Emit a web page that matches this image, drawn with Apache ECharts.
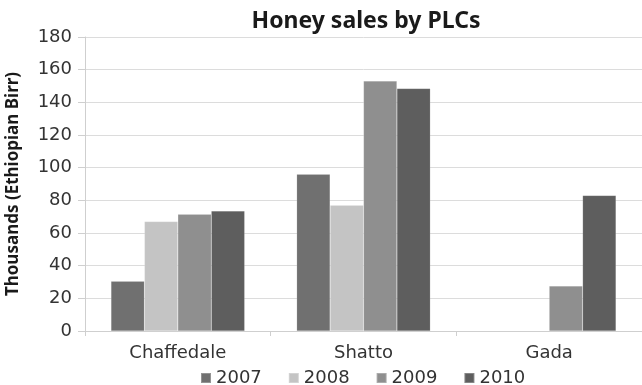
<!DOCTYPE html>
<html>
<head>
<meta charset="utf-8">
<script src="https://cdn.jsdelivr.net/npm/echarts@6/dist/echarts.min.js"></script>
<style>
  html, body { margin: 0; padding: 0; background: #fff; }
  #chart { width: 642px; height: 385px; }
</style>
</head>
<body>
<div id="chart"></div>
<script>
// Honey sales per PLC, thousands of Ethiopian Birr
const categories = ['Chaffedale', 'Shatto', 'Gada'];
const years = ['2007', '2008', '2009', '2010'];
const sales2007 = [30.5, 96, null];
const sales2008 = [67, 77, null];
const sales2009 = [71.5, 153, 27.5];
const sales2010 = [73.5, 148.5, 83];
const yTicks = [0, 20, 40, 60, 80, 100, 120, 140, 160, 180];

const seriesValues = [sales2007, sales2008, sales2009, sales2010];
const colors = ['#707070', '#c4c4c4', '#8f8f8f', '#5e5e5e'];

const chart = echarts.init(document.getElementById('chart'), null, { renderer: 'canvas' });

chart.setOption({
  animation: false,
  backgroundColor: '#ffffff',
  color: colors,
  title: {
    text: 'Honey sales by PLCs',
    left: 361,
    textAlign: 'center',
    top: 5,
    textStyle: { fontFamily: 'Noto Sans', fontWeight: 'bold', fontSize: 23, color: '#1a1a1a' }
  },
  legend: {
    data: years,
    left: 195,
    top: 364,
    icon: 'rect',
    itemWidth: 10,
    itemHeight: 10,
    itemGap: 26,
    textStyle: { fontFamily: 'DejaVu Sans', fontSize: 18, color: '#333' }
  },
  grid: { left: 85, right: 0, top: 37, bottom: 54, outerBoundsMode: 'none' },
  xAxis: {
    type: 'category',
    data: categories,
    axisLine: { lineStyle: { color: '#cfcfcf', width: 1 } },
    axisTick: { show: true, length: 5, lineStyle: { color: '#cfcfcf' } },
    axisLabel: { margin: 13, fontFamily: 'DejaVu Sans', fontSize: 18, color: '#333' }
  },
  yAxis: {
    type: 'value',
    min: yTicks[0],
    max: yTicks[yTicks.length - 1],
    interval: yTicks[1] - yTicks[0],
    name: 'Thousands (Ethiopian Birr)',
    nameLocation: 'middle',
    nameGap: 63,
    nameTextStyle: { fontFamily: 'Noto Sans', fontWeight: 'bold', fontSize: 17, color: '#1a1a1a' },
    axisLine: { show: true, lineStyle: { color: '#cfcfcf', width: 1 } },
    axisTick: { show: true, length: 7, lineStyle: { color: '#cfcfcf' } },
    axisLabel: { margin: 13, fontFamily: 'DejaVu Sans', fontSize: 18, color: '#333' },
    splitLine: { lineStyle: { color: '#dcdcdc', width: 1 } }
  },
  series: years.map((y, i) => ({
    name: y,
    type: 'bar',
    data: seriesValues[i],
    barGap: '0%',
    barCategoryGap: '28%',
    itemStyle: { color: colors[i], borderColor: 'rgba(255,255,255,0.25)', borderWidth: 0.5 }
  }))
});
</script>
</body>
</html>
